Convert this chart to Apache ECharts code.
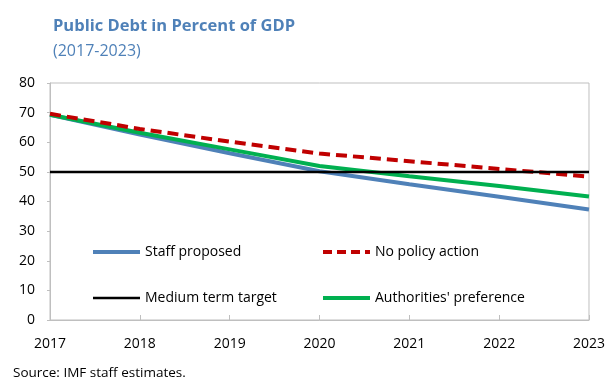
<!DOCTYPE html>
<html>
<head>
<meta charset="utf-8">
<script src="https://cdn.jsdelivr.net/npm/echarts@6/dist/echarts.min.js"></script>
<style>
    html, body { margin: 0; padding: 0; background: #fff; }
    #debtChart { width: 608px; height: 379px; }
</style>
</head>
<body>
<div id="debtChart"></div>
<script>
// 年份
var years = ['2017', '2018', '2019', '2020', '2021', '2022', '2023'];
// 各情景债务占GDP比重
var staffProposed = [69.3, 62.6, 56.3, 50.2, 45.8, 41.6, 37.3];
var noPolicyAction = [69.6, 64.5, 60.2, 56.2, 53.6, 51.0, 48.4];
var mediumTermTarget = [50, 50, 50, 50, 50, 50, 50];
var authoritiesPref = [69.3, 63.2, 57.6, 52.0, 48.5, 45.2, 41.7];
var yTicks = [0, 10, 20, 30, 40, 50, 60, 70, 80];

var colors = ['#4f81b8', '#c00000', '#000000', '#00b050'];
var font = 'Open Sans';

var myChart = echarts.init(document.getElementById('debtChart'));

//图例项
function legendItem(name, color, width, type) {
    return {
        name: name,
        lineStyle: { color: color, width: width, type: type || 'solid' }
    };
}

var option = {
    animation: false,
    title: [{
        text: 'Public Debt in Percent of GDP',
        left: 48,
        top: 13,
        textStyle: { fontFamily: font, fontSize: 16.5, fontWeight: 'bold', color: '#4f81b8' }
    }, {
        text: '(2017-2023)',
        left: 48,
        top: 38,
        textStyle: { fontFamily: font, fontSize: 16, fontWeight: 'normal', color: '#4f81b8' }
    }, {
        text: 'Source: IMF staff estimates.',
        left: 8,
        top: 361,
        textStyle: { fontFamily: font, fontSize: 13.5, fontWeight: 'normal', color: '#000' }
    }],
    grid: {
        left: 50,
        right: 19,
        top: 83,
        bottom: 59,
        show: true,
        borderColor: '#bfbfbf',
        borderWidth: 1
    },
    legend: [{
        orient: 'vertical',
        left: 86,
        top: 240,
        itemWidth: 47,
        itemHeight: 14,
        itemGap: 32,
        itemStyle: { opacity: 0 },
        data: [
            legendItem('Staff proposed', colors[0], 4),
            legendItem('Medium term target', colors[2], 2.5)
        ],
        textStyle: { fontFamily: font, fontSize: 14, color: '#000' }
    }, {
        orient: 'vertical',
        left: 316,
        top: 240,
        itemWidth: 47,
        itemHeight: 14,
        itemGap: 32,
        itemStyle: { opacity: 0 },
        data: [
            legendItem('No policy action', colors[1], 4, [9, 5]),
            legendItem("Authorities' preference", colors[3], 4)
        ],
        textStyle: { fontFamily: font, fontSize: 14, color: '#000' }
    }],
    xAxis: {
        type: 'category',
        boundaryGap: false,
        data: years,
        axisLine: { lineStyle: { color: '#bfbfbf' } },
        axisTick: { inside: true, length: 5, lineStyle: { color: '#bfbfbf' } },
        axisLabel: { fontFamily: font, fontSize: 14, color: '#000', margin: 17 },
        splitLine: { show: false }
    },
    yAxis: {
        type: 'value',
        min: yTicks[0],
        max: yTicks[yTicks.length - 1],
        interval: 10,
        axisLine: { show: true, lineStyle: { color: '#bfbfbf' } },
        axisTick: { show: true, length: 3, lineStyle: { color: '#bfbfbf' } },
        axisLabel: { fontFamily: font, fontSize: 14, color: '#000', margin: 15 },
        splitLine: { show: false }
    },
    series: [
        {
            name: 'Staff proposed',
            type: 'line',
            symbol: 'none',
            data: staffProposed,
            lineStyle: { color: colors[0], width: 4 },
            itemStyle: { color: colors[0] },
            z: 3
        },
        {
            name: 'No policy action',
            type: 'line',
            symbol: 'none',
            data: noPolicyAction,
            lineStyle: { color: colors[1], width: 4, type: [11, 6] },
            itemStyle: { color: colors[1] },
            z: 4
        },
        {
            name: 'Medium term target',
            type: 'line',
            symbol: 'none',
            data: mediumTermTarget,
            lineStyle: { color: colors[2], width: 2.5 },
            itemStyle: { color: colors[2] },
            z: 5
        },
        {
            name: "Authorities' preference",
            type: 'line',
            symbol: 'none',
            data: authoritiesPref,
            lineStyle: { color: colors[3], width: 4 },
            itemStyle: { color: colors[3] },
            z: 3
        }
    ]
};

myChart.setOption(option);
</script>
</body>
</html>
